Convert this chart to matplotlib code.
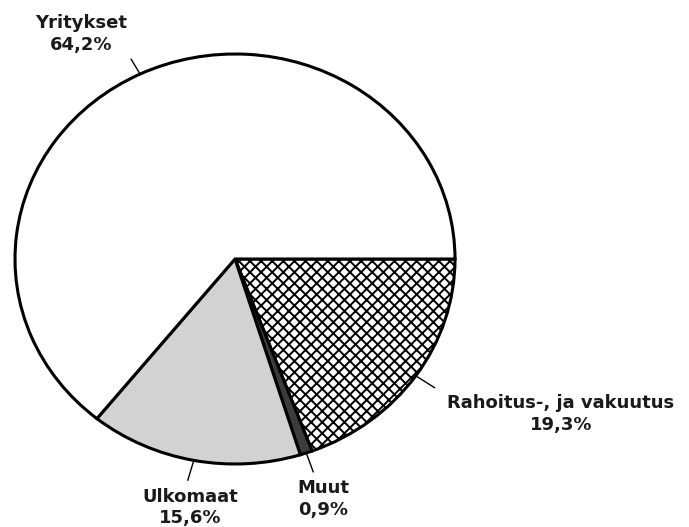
import numpy as np
import matplotlib.pyplot as plt

# Osuudet (%), myötäpäivään alkaen klo 3 suunnasta
sektorit = ['Rahoitus-, ja vakuutus', 'Muut', 'Ulkomaat', 'Yritykset']
osuudet = [19.3, 0.9, 15.6, 64.2]
osuus_tekstit = ['19,3%', '0,9%', '15,6%', '64,2%']
varit = ['white', '#3c3c3c', '#d2d2d2', 'white']
kuviot = ['xxx', None, None, None]

# selitteiden siirrot (pikseleinä): viivan pää ja tekstin keskikohta
viiva_siirto = [(19, -12), (7, -19), (-6, -20), (-9, 15)]
teksti_siirto = [(145, -38), (17, -46), (-4, -47), (-59, 40)]

plt.rcParams['font.family'] = ['DejaVu Sans']
plt.rcParams['hatch.linewidth'] = 1.4

fig = plt.figure(figsize=(6.89, 5.27), dpi=100)
W, H = 689, 527
# ellipsin muotoinen piirakka: keskipiste (235, 259), säteet 220 x 205 px
ax = fig.add_axes([15 / W, (H - 259 - 205) / H, 440 / W, 410 / H])

wedges, _ = ax.pie(osuudet, colors=varit, startangle=0, counterclock=False,
                   wedgeprops=dict(edgecolor='black', linewidth=2.2))
for w, h in zip(wedges, kuviot):
    if h:
        w.set_hatch(h)
ax.set_aspect('auto')
ax.set_xlim(-1, 1)
ax.set_ylim(-1, 1)
ax.axis('off')

for w, nimi, pros, vs, ts in zip(wedges, sektorit, osuus_tekstit,
                                 viiva_siirto, teksti_siirto):
    kulma = np.deg2rad((w.theta1 + w.theta2) / 2)
    p = (np.cos(kulma), np.sin(kulma))
    ax.annotate('', xy=p, xytext=vs, textcoords='offset pixels',
                arrowprops=dict(arrowstyle='-', color='black', lw=1.0,
                                shrinkA=0, shrinkB=0),
                annotation_clip=False)
    ax.annotate(nimi + '\n' + pros, xy=p, xytext=ts,
                textcoords='offset pixels', ha='center', va='center',
                fontsize=13, fontweight='bold', color='#1a1a1a',
                linespacing=1.25, annotation_clip=False)

fig.savefig('out.png', dpi=100)
